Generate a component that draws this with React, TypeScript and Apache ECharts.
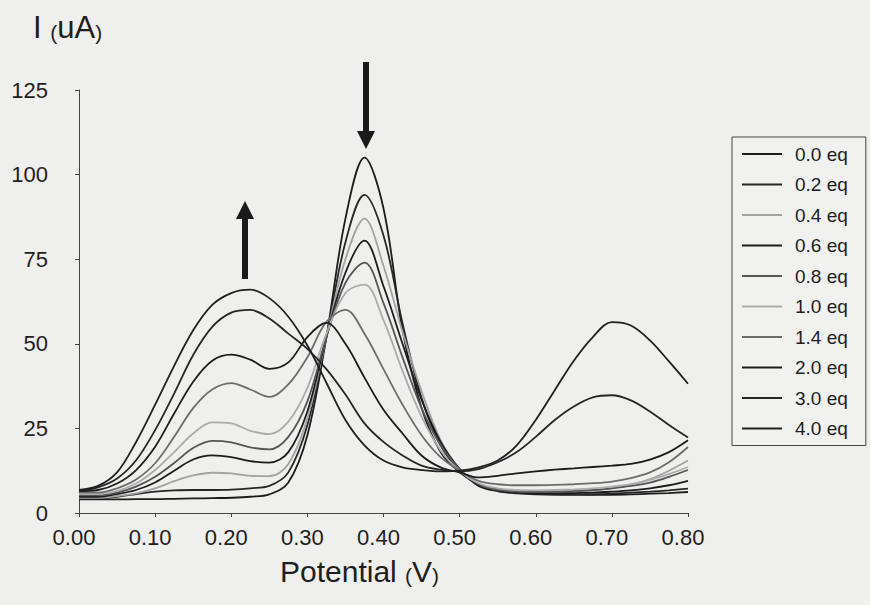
import React, { useEffect, useRef } from "react";
import * as echarts from "echarts";

// Potential grid (V)
const potential = [
  0.0, 0.025, 0.05, 0.075, 0.1, 0.125, 0.15, 0.175, 0.2, 0.225, 0.25, 0.275,
  0.3, 0.325, 0.35, 0.375, 0.4, 0.425, 0.45, 0.475, 0.5, 0.525, 0.55, 0.575,
  0.6, 0.625, 0.65, 0.675, 0.7, 0.725, 0.75, 0.775, 0.8,
];

// Current (uA) for each titration step
const eq00 = [4.0, 4.0, 4.0, 4.1, 4.1, 4.2, 4.3, 4.4, 4.5, 4.8, 5.5, 9.0, 23.0, 52.0, 87.0, 105.0, 90.0, 54.0, 31.0, 18.0, 12.0, 8.5, 7.0, 6.2, 5.8, 5.6, 5.5, 5.4, 5.4, 5.5, 5.7, 5.9, 6.2];
const eq02 = [4.2, 4.3, 4.8, 5.6, 6.3, 6.7, 6.8, 6.8, 6.9, 7.3, 8.0, 12.0, 26.0, 52.0, 80.0, 94.0, 82.0, 56.0, 34.0, 20.0, 12.5, 8.3, 6.5, 5.8, 5.5, 5.4, 5.4, 5.5, 5.7, 6.0, 6.3, 6.7, 7.2];
const eq04 = [4.5, 4.5, 5.0, 5.8, 7.3, 9.4, 11.1, 11.9, 11.7, 11.0, 10.9, 14.5, 28.0, 52.0, 75.0, 87.0, 73.0, 53.5, 36.0, 21.5, 13.0, 8.0, 6.7, 6.2, 6.0, 6.1, 6.3, 6.7, 7.3, 8.3, 10.0, 12.5, 15.5];
const eq06 = [4.8, 4.8, 5.6, 6.8, 9.0, 12.5, 15.8, 17.0, 16.5, 15.3, 14.9, 18.0, 30.0, 52.0, 71.0, 80.5, 67.0, 50.0, 33.5, 21.0, 13.0, 8.0, 6.5, 6.0, 5.8, 5.8, 5.9, 6.0, 6.3, 6.7, 7.3, 8.2, 9.5];
const eq08 = [5.2, 5.2, 6.0, 7.8, 10.7, 14.8, 19.2, 21.3, 20.9, 19.4, 18.8, 22.5, 33.0, 52.0, 68.0, 74.0, 62.0, 46.0, 31.0, 20.0, 13.0, 8.5, 6.8, 6.3, 6.2, 6.3, 6.5, 6.8, 7.3, 8.0, 9.0, 10.7, 12.7];
const eq10 = [5.6, 5.6, 6.5, 8.7, 12.7, 18.0, 23.5, 26.8, 26.5, 24.3, 23.3, 27.0, 37.0, 53.0, 65.0, 67.5, 57.0, 42.0, 28.5, 18.5, 12.5, 8.8, 7.3, 6.8, 6.7, 6.8, 7.0, 7.3, 7.8, 8.5, 9.8, 11.5, 13.6];
const eq14 = [6.0, 6.0, 7.3, 9.9, 14.7, 22.5, 31.0, 36.5, 38.4, 36.5, 34.3, 38.0, 46.0, 56.5, 60.0, 53.0, 42.5, 32.0, 23.0, 16.5, 12.5, 9.5, 8.5, 8.2, 8.2, 8.3, 8.5, 8.8, 9.3, 10.3, 12.0, 15.0, 19.5];
const eq20 = [6.5, 6.8, 8.7, 12.7, 19.6, 29.4, 38.8, 45.0, 46.8, 45.3, 42.6, 44.5, 52.0, 56.2, 50.0, 40.0, 30.5, 23.5, 17.0, 13.5, 12.0, 10.5, 11.0, 11.7, 12.3, 12.8, 13.2, 13.6, 14.0, 14.5, 15.8, 18.0, 21.5];
const eq30 = [6.5, 7.6, 10.2, 15.6, 24.5, 35.3, 46.7, 55.0, 59.2, 60.0, 57.5, 53.0, 48.5, 42.5, 35.0, 26.5, 21.0, 17.0, 14.0, 12.8, 12.3, 13.0, 15.0, 18.0, 22.5, 27.5, 31.5, 34.2, 34.8, 33.3, 30.0, 26.0, 22.3];
const eq40 = [6.8, 8.0, 12.0, 21.0, 32.0, 43.5, 54.0, 61.5, 65.0, 66.0, 63.5, 58.0, 49.5, 38.5, 27.5, 20.0, 15.5, 13.5, 12.7, 12.3, 12.5, 13.5, 15.5, 20.0, 27.5, 36.3, 45.0, 52.0, 56.4, 55.4, 51.0, 44.8, 38.2];

const seriesNames = ["0.0 eq", "0.2 eq", "0.4 eq", "0.6 eq", "0.8 eq", "1.0 eq", "1.4 eq", "2.0 eq", "3.0 eq", "4.0 eq"];
const seriesValues = [eq00, eq02, eq04, eq06, eq08, eq10, eq14, eq20, eq30, eq40];
const seriesColors = ["#1c1c1c", "#262626", "#a2a2a2", "#1c1c1c", "#555555", "#ababab", "#6c6c6c", "#1c1c1c", "#262626", "#202020"];

const xTicks = [0, 0.1, 0.2, 0.3, 0.4, 0.5, 0.6, 0.7, 0.8];
const yTicks = [0, 25, 50, 75, 100, 125];

const FONT = "'Liberation Sans', Arial, Helvetica, sans-serif";
const INK = "#1e1e1e";

export default function App() {
  const ref = useRef<HTMLDivElement>(null);

  useEffect(() => {
    if (!ref.current) return;
    const chart = echarts.init(ref.current, undefined, { renderer: "svg" });

    const series = seriesNames.map((name, i) => ({
      name,
      type: "line",
      data: potential.map((v, k) => [v, seriesValues[i][k]]),
      smooth: 0.35,
      showSymbol: false,
      symbol: "none",
      lineStyle: { color: seriesColors[i], width: 1.8 },
      itemStyle: { color: seriesColors[i] },
      z: 2,
    }));

    chart.setOption({
      animation: false,
      backgroundColor: "#efefed",
      textStyle: { fontFamily: FONT },
      grid: { left: 79, right: 182, top: 90, bottom: 92, containLabel: false },
      xAxis: {
        type: "value",
        min: xTicks[0],
        max: xTicks[xTicks.length - 1],
        interval: 0.1,
        axisLine: { show: true, lineStyle: { color: "#444", width: 1 } },
        axisTick: { show: true, inside: false, length: 4, lineStyle: { color: "#444" } },
        splitLine: { show: false },
        axisLabel: {
          formatter: (v: number) => v.toFixed(2),
          fontSize: 22,
          color: INK,
          margin: 13,
          padding: [0, 10, 0, 0],
          fontFamily: FONT,
        },
      },
      yAxis: {
        type: "value",
        min: yTicks[0],
        max: yTicks[yTicks.length - 1],
        interval: 25,
        axisLine: { show: true, lineStyle: { color: "#444", width: 1 } },
        axisTick: { show: true, inside: false, length: 4, lineStyle: { color: "#444" } },
        splitLine: { show: false },
        axisLabel: {
          fontSize: 22,
          color: INK,
          margin: 31,
          padding: [6, 0, 0, 0],
          fontFamily: FONT,
        },
      },
      legend: {
        orient: "vertical",
        left: 732,
        top: 137,
        padding: [6, 18, 6, 10],
        itemGap: 8.5,
        itemWidth: 40,
        itemHeight: 2,
        icon: "rect",
        borderColor: "#444",
        borderWidth: 1,
        backgroundColor: "#f1f1ef",
        selectedMode: false,
        textStyle: {
          fontSize: 19,
          lineHeight: 22,
          color: INK,
          fontFamily: FONT,
          padding: [0, 0, 0, 8],
        },
        data: seriesNames,
      },
      graphic: [
        {
          type: "text",
          left: 33,
          top: 12,
          style: {
            text: "{big|I }{sm|(}{big|uA}{sm|)}",
            fill: INK,
            rich: {
              big: { fontSize: 31, fontFamily: FONT, fill: INK, verticalAlign: "bottom", lineHeight: 36 },
              sm: { fontSize: 21, fontFamily: FONT, fill: INK, verticalAlign: "bottom", lineHeight: 33 },
            },
          },
        },
        {
          type: "text",
          left: 280,
          top: 556,
          style: {
            text: "{big|Potential }{sm|(}{big|V}{sm|)}",
            fill: INK,
            rich: {
              big: { fontSize: 30, fontFamily: FONT, fill: INK, verticalAlign: "bottom", lineHeight: 36 },
              sm: { fontSize: 21, fontFamily: FONT, fill: INK, verticalAlign: "bottom", lineHeight: 33 },
            },
          },
        },
        // upward arrow over the first peak
        {
          type: "group",
          z: 10,
          children: [
            { type: "rect", shape: { x: 242, y: 216, width: 6, height: 63 }, style: { fill: "#1a1a1a" } },
            { type: "polygon", shape: { points: [[236, 219], [254, 219], [245, 201]] }, style: { fill: "#1a1a1a" } },
          ],
        },
        // downward arrow over the second peak
        {
          type: "group",
          z: 10,
          children: [
            { type: "rect", shape: { x: 363, y: 62, width: 6, height: 72 }, style: { fill: "#1a1a1a" } },
            { type: "polygon", shape: { points: [[357, 131], [375, 131], [366, 149]] }, style: { fill: "#1a1a1a" } },
          ],
        },
      ],
      series,
    });

    return () => chart.dispose();
  }, []);

  return (
    <div
      ref={ref}
      style={{ position: "fixed", left: 0, top: 0, width: 870, height: 605, background: "#efefed" }}
    />
  );
}
